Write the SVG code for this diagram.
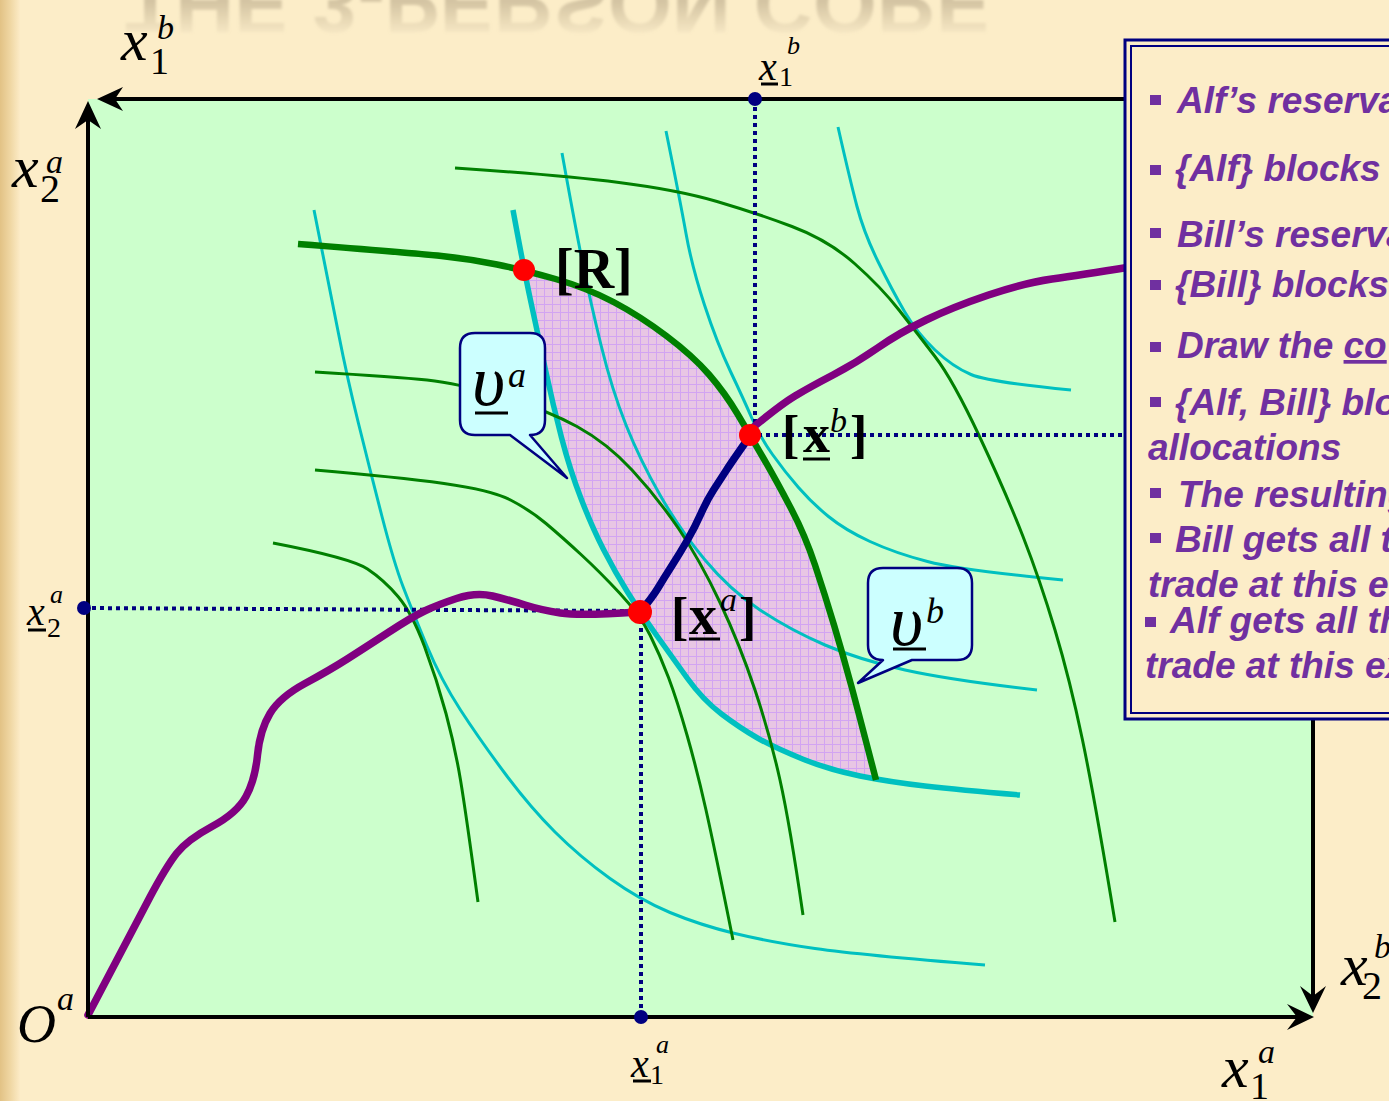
<svg xmlns="http://www.w3.org/2000/svg" width="1389" height="1101" viewBox="0 0 1389 1101">
<defs>
<style>
.ax{stroke:#000;stroke-width:4;fill:none}
.arr{fill:#000}
.dl{stroke:#000080;stroke-width:4;stroke-dasharray:4 4;fill:none}
.cy{fill:none;stroke:#00C0C0;stroke-width:3}
.cyk{fill:none;stroke:#00C0C0;stroke-width:5.5}
.gr{fill:none;stroke:#008000;stroke-width:3}
.grk{fill:none;stroke:#008000;stroke-width:6.5}
.pu{fill:none;stroke:#800080;stroke-width:7.5;stroke-linecap:round;stroke-linejoin:round}
.nv{fill:none;stroke:#000080;stroke-width:7.5;stroke-linecap:round}
.adot{fill:#000080}
.pt{fill:#FF0000}
.lbl{font-family:"Liberation Serif","Times New Roman",serif;font-style:italic;fill:#000}
.up{font-style:normal}
.br{font-family:"Liberation Serif","Times New Roman",serif;font-weight:bold;fill:#000}
.ul{stroke:#000;stroke-width:3}
.call{fill:#CCFFFF;stroke:#000080;stroke-width:2.5;stroke-linejoin:round}
.bt{font-family:"Liberation Sans",Arial,sans-serif;font-weight:bold;font-style:italic;font-size:37px;fill:#7030A0}
.bul{fill:#7030A0}
</style>
<pattern id="grid" width="8" height="8" patternUnits="userSpaceOnUse">
<rect width="8" height="8" fill="#E8C6E4"/>
<path d="M0,0.5H8M0.5,0V8" stroke="#D2A4F2" stroke-width="1"/>
</pattern>
<linearGradient id="stripe" x1="0" y1="0" x2="1" y2="0">
<stop offset="0" stop-color="#E2C285"/>
<stop offset="0.5" stop-color="#EFD6A2"/>
<stop offset="1" stop-color="#FCEBC6"/>
</linearGradient>
<linearGradient id="ghostfill" gradientUnits="userSpaceOnUse" x1="0" y1="-26" x2="0" y2="-62">
<stop offset="0" stop-color="#B9A98A" stop-opacity="0.6"/>
<stop offset="1" stop-color="#B9A98A" stop-opacity="0"/>
</linearGradient>
<filter id="blur" x="-5%" y="-50%" width="110%" height="200%"><feGaussianBlur stdDeviation="1.6"/></filter>
</defs>

<rect width="1389" height="1101" fill="#FCEDC8"/>
<rect x="0" y="0" width="20" height="1101" fill="url(#stripe)"/>
<text transform="translate(0,-24) scale(1,-1)" x="125" y="0" font-family="Liberation Sans,Arial,sans-serif" font-weight="bold" font-size="82" fill="url(#ghostfill)" filter="url(#blur)">THE 3-PERSON CORE</text>

<rect x="88" y="99" width="1225" height="918" fill="#CCFFCC"/>

<g id="core-region">
<path fill="url(#grid)" d="M497,264.5 Q524,270 555.5,279 Q587,288 613.5,302 Q640,316 666.5,336 Q693,356 709,374.5 Q725,393 737.5,414 Q750,435 763,457.5 Q776,480 790.5,507.5 Q805,535 815,565 Q825,595 834,625 Q843,655 851.5,686.5 Q860,718 876,780 L860,776 Q830,770 802.5,759 Q775,748 757.5,738 Q740,728 721.5,714 Q703,700 687.5,678.5 Q672,657 656,634.5 Q640,612 627.5,592 Q615,572 603.5,549.5 Q592,527 581,498.5 Q570,470 561.5,437.5 Q553,405 545.5,370 Q538,335 531,302.5 Q524,270 510,266 Z"/>
</g>

<g id="connectors">
<g id="alf-indifference">
<path class="cy" d="M314,210 Q330,290 338.5,333.5 Q347,377 358.5,423.5 Q370,470 382,516.5 Q394,563 403,586.5 Q412,610 426.5,645 Q441,680 460.5,710 Q480,740 505,773.5 Q530,807 555,832 Q580,857 610,878.5 Q640,900 670,912.5 Q700,925 735,933.5 Q770,942 815,948.5 Q860,955 985,965"/>
<path class="cy" d="M562,153 Q575,225 582.5,262.5 Q590,300 601,345 Q612,390 626,425 Q640,460 660,495 Q680,530 705,560 Q730,590 760,610 Q790,630 825,645 Q860,660 905,670 Q950,680 1037,690"/>
<path class="cy" d="M666,131 Q680,200 686,233.5 Q692,267 704.5,305 Q717,343 730.5,371.5 Q744,400 752,418.5 Q760,437 772.5,454.5 Q785,472 798.5,487.5 Q812,503 828.5,516.5 Q845,530 870,541.5 Q895,553 927.5,561.5 Q960,570 1063,580"/>
<path class="cy" d="M838,127 Q850,180 857,206.5 Q864,233 878,261.5 Q892,290 904.5,311.5 Q917,333 935,350 Q953,367 971,374.5 Q989,382 1071,390"/>
<path class="cyk" d="M513,210 Q524,270 531,302.5 Q538,335 545.5,370 Q553,405 561.5,437.5 Q570,470 581,498.5 Q592,527 603.5,549.5 Q615,572 627.5,592 Q640,612 656,634.5 Q672,657 687.5,678.5 Q703,700 721.5,714 Q740,728 757.5,738 Q775,748 802.5,759 Q830,770 860,776 Q890,782 925,786 Q960,790 1020,795"/>
</g>
<g id="bill-indifference">
<path class="gr" d="M455,168 Q560,175 619,182.5 Q678,190 717,201.5 Q756,213 792,226.5 Q828,240 854.5,263.5 Q881,287 899,310 Q917,333 935,356.5 Q953,380 979.5,436.5 Q1006,493 1023,536.5 Q1040,580 1055,630 Q1070,680 1082.5,740 Q1095,800 1115,922"/>
<path class="gr" d="M315,372 Q397,377 427,380 Q457,383 502,396.5 Q547,410 577,426.5 Q607,443 632,470 Q657,497 678.5,528.5 Q700,560 720,602.5 Q740,645 755,690 Q770,735 780,780 Q790,825 803,915"/>
<path class="gr" d="M315,470 Q397,477 444,483.5 Q491,490 510.5,500 Q530,510 546,523.5 Q562,537 581,554.5 Q600,572 620,593.5 Q640,615 650,635 Q660,655 668.5,677.5 Q677,700 687,735 Q697,770 706,810 Q715,850 733,940"/>
<path class="gr" d="M273,543 Q351,558 367.5,569 Q384,580 398,596.5 Q412,613 424.5,646.5 Q437,680 446,713.5 Q455,747 460.5,780 Q466,813 478,902"/>
<path class="grk" d="M298,244 Q413,253 441.5,256 Q470,259 497,264.5 Q524,270 555.5,279 Q587,288 613.5,302 Q640,316 666.5,336 Q693,356 709,374.5 Q725,393 737.5,414 Q750,435 763,457.5 Q776,480 790.5,507.5 Q805,535 815,565 Q825,595 834,625 Q843,655 851.5,686.5 Q860,718 876,780"/>
</g>
<g id="guides">
<path class="dl" d="M755,99 V435"/>
<path class="dl" d="M750,435 H1130"/>
<path class="dl" d="M84,608 L640,611"/>
<path class="dl" d="M641,612 V1017"/>
</g>
<g id="contract-curve">
<path class="pu" d="M88,1015 Q134,927 150,897 Q166,867 176.5,853.5 Q187,840 212,826.5 Q237,813 246,796.5 Q255,780 257.5,755 Q260,730 270,713.5 Q280,697 305,683.5 Q330,670 348,658.5 Q366,647 389,632 Q412,617 424.5,611 Q437,605 456.5,598.5 Q476,592 492.5,596 Q509,600 525,605 Q541,610 560.5,613 Q580,616 638,612"/>
<path class="pu" d="M750,430 Q780,405 795,396 Q810,387 833,375 Q856,363 877.5,348 Q899,333 926,320 Q953,307 988.5,295 Q1024,283 1052,279 Q1080,275 1130,267"/>
<path class="nv" d="M640,612 Q652,598 658,588 Q664,578 672,565.5 Q680,553 687.5,540 Q695,527 701,513.5 Q707,500 713.5,490 Q720,480 726.5,470 Q733,460 750,436"/>
</g>
</g>

<g id="axes">
<path class="ax" d="M88,1017 V112"/>
<path class="arr" d="M88,101 L101,129 L88,120 L75,129 Z"/>
<path class="ax" d="M1130,99 H110"/>
<path class="arr" d="M97,99 L123,87 L115,99 L123,111 Z"/>
<path class="ax" d="M88,1017 H1300"/>
<path class="arr" d="M1314,1017 L1287,1004 L1297,1017 L1287,1030 Z"/>
<path class="ax" d="M1313,715 V1000"/>
<path class="arr" d="M1313,1013 L1300,986 L1313,996 L1326,986 Z"/>
</g>

<g id="axis-points">
<circle class="adot" cx="755" cy="99" r="7"/>
<circle class="adot" cx="84" cy="608" r="7"/>
<circle class="adot" cx="641" cy="1017" r="7"/>
</g>

<g id="axis-labels">
<text class="lbl"><tspan x="121" y="60" font-size="60">x</tspan><tspan class="up" x="150" y="74" font-size="38">1</tspan><tspan x="157" y="39" font-size="34">b</tspan></text>
<text class="lbl"><tspan x="12" y="187" font-size="60">x</tspan><tspan class="up" x="40" y="202" font-size="40">2</tspan><tspan x="46" y="173" font-size="34">a</tspan></text>
<text class="lbl"><tspan x="1341" y="985" font-size="60">x</tspan><tspan class="up" x="1362" y="999" font-size="40">2</tspan><tspan x="1374" y="958" font-size="34">b</tspan></text>
<text class="lbl"><tspan x="1222" y="1087" font-size="60">x</tspan><tspan class="up" x="1250" y="1099" font-size="38">1</tspan><tspan x="1258" y="1063" font-size="34">a</tspan></text>
<text class="lbl"><tspan x="17" y="1042" font-size="54">O</tspan><tspan x="57" y="1010" font-size="34">a</tspan></text>
<text class="lbl"><tspan x="759" y="80" font-size="40">x</tspan><tspan class="up" x="779" y="86" font-size="28">1</tspan><tspan x="787" y="54" font-size="26">b</tspan></text>
<line class="ul" x1="761" y1="84" x2="778" y2="84" stroke-width="2.5"/>
<text class="lbl"><tspan x="27" y="625" font-size="40">x</tspan><tspan class="up" x="47" y="637" font-size="28">2</tspan><tspan x="50" y="603" font-size="26">a</tspan></text>
<line class="ul" x1="28" y1="630" x2="46" y2="630" stroke-width="2.5"/>
<text class="lbl"><tspan x="631" y="1077" font-size="40">x</tspan><tspan class="up" x="650" y="1084" font-size="28">1</tspan><tspan x="656" y="1053" font-size="26">a</tspan></text>
<line class="ul" x1="633" y1="1081" x2="651" y2="1081" stroke-width="2.5"/>
</g>

<g id="point-R">
<circle class="pt" cx="524" cy="270" r="11"/>
<text class="br" x="555" y="288" font-size="56">[R]</text>
</g>
<g id="point-xb">
<circle class="pt" cx="750" cy="435" r="11"/>
<text class="br" x="782" y="452" font-size="52">[</text>
<text class="br" x="803" y="452" font-size="54">x</text>
<line class="ul" x1="803" y1="459" x2="830" y2="459" stroke-width="4"/>
<text class="lbl" x="830" y="432" font-size="34">b</text>
<text class="br" x="850" y="452" font-size="52">]</text>
</g>
<g id="point-xa">
<circle class="pt" cx="640" cy="612" r="12"/>
<text class="br" x="671" y="634" font-size="52">[</text>
<text class="br" x="689" y="634" font-size="56">x</text>
<line class="ul" x1="689" y1="639" x2="720" y2="639" stroke-width="4"/>
<text class="lbl" x="720" y="611" font-size="34">a</text>
<text class="br" x="739" y="634" font-size="52">]</text>
</g>

<g id="callout-va">
<path class="call" d="M475,333 H530 Q545,333 545,348 V420 Q545,435 530,435 L567,478 L510,435 H475 Q460,435 460,420 V348 Q460,333 475,333 Z"/>
<text class="lbl" x="472" y="405" font-size="72" font-style="normal">υ</text>
<line class="ul" x1="475" y1="413" x2="508" y2="413"/>
<text class="lbl" x="508" y="387" font-size="36">a</text>
</g>
<g id="callout-vb">
<path class="call" d="M883,568 H957 Q972,568 972,583 V645 Q972,660 957,660 H912 L858,683 L883,660 Q868,660 868,645 V583 Q868,568 883,568 Z"/>
<text class="lbl" x="890" y="645" font-size="72" font-style="normal">υ</text>
<line class="ul" x1="893" y1="649" x2="926" y2="649"/>
<text class="lbl" x="926" y="623" font-size="36">b</text>
</g>

<g id="textbox">
<rect x="1125" y="40" width="280" height="679" fill="#FCEDC8" stroke="#000080" stroke-width="3"/>
<rect x="1131" y="46" width="270" height="667" fill="none" stroke="#000080" stroke-width="2"/>
<rect class="bul" x="1150" y="95" width="11" height="10"/>
<text class="bt" x="1177" y="113">Alf’s reserva</text>
<rect class="bul" x="1150" y="165" width="11" height="10"/>
<text class="bt" x="1175" y="181">{Alf} blocks</text>
<rect class="bul" x="1150" y="228" width="11" height="10"/>
<text class="bt" x="1177" y="247">Bill’s reserva</text>
<rect class="bul" x="1150" y="280" width="11" height="10"/>
<text class="bt" x="1175" y="297">{Bill} blocks</text>
<rect class="bul" x="1150" y="342" width="11" height="10"/>
<text class="bt" x="1177" y="358">Draw the <tspan text-decoration="underline">co</tspan></text>
<rect class="bul" x="1150" y="397" width="11" height="10"/>
<text class="bt" x="1175" y="415">{Alf, Bill} blo</text>
<text class="bt" x="1148" y="460">allocations</text>
<rect class="bul" x="1150" y="488" width="11" height="10"/>
<text class="bt" x="1178" y="507">The resulting</text>
<rect class="bul" x="1150" y="533" width="11" height="10"/>
<text class="bt" x="1175" y="552">Bill gets all t</text>
<text class="bt" x="1148" y="597">trade at this e</text>
<rect class="bul" x="1145" y="617" width="11" height="10"/>
<text class="bt" x="1170" y="633">Alf gets all th</text>
<text class="bt" x="1145" y="678">trade at this ex</text>
</g>
</svg>
